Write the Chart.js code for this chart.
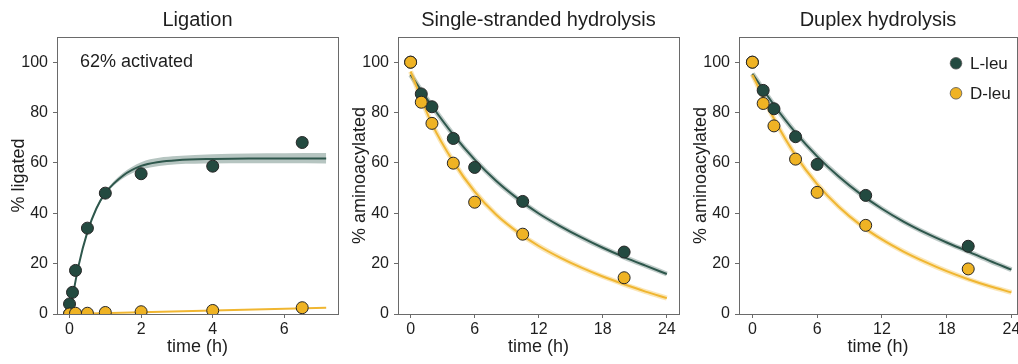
<!DOCTYPE html>
<html><head><meta charset="utf-8">
<script src="https://cdn.jsdelivr.net/npm/chart.js@4.4.1/dist/chart.umd.min.js"></script>
<style>
html,body{margin:0;padding:0;background:#fff;}
body{width:1018px;height:364px;position:relative;overflow:hidden;}
.p{position:absolute;top:0;width:345px;height:364px;}
</style></head><body>
<div class="p" style="left:0px"><canvas id="c1" width="345" height="364"></canvas></div>
<div class="p" style="left:341px"><canvas id="c2" width="345" height="364"></canvas></div>
<div class="p" style="left:682px"><canvas id="c3" width="345" height="364"></canvas></div>
<script>
// ---------- data ----------
const seriesNames = ['L-leu', 'D-leu'];
const panelTitles = ['Ligation', 'Single-stranded hydrolysis', 'Duplex hydrolysis'];
const yTitles = ['% ligated', '% aminoacylated', '% aminoacylated'];
const xTitle = 'time (h)';
const annotationText = '62% activated';

const yTicks = [0, 20, 40, 60, 80, 100];
const ligXTicks = [0, 2, 4, 6];
const hydXTicks = [0, 6, 12, 18, 24];

// Ligation panel, measured points
const ligTimeL = [0, 0, 0.083, 0.167, 0.5, 1, 2, 4, 6.5];
const ligL = [0, 4.0, 8.6, 17.3, 34.1, 48.0, 55.7, 58.7, 68.1];
const ligTimeD = [0, 0.167, 0.5, 1, 2, 4, 6.5];
const ligD = [0, 0.3, 0.3, 0.6, 0.9, 1.4, 2.5];
// Ligation panel, fitted curves
const ligFitTime = [0, 0.25, 0.5, 0.75, 1, 1.5, 2, 2.5, 3, 4, 5, 6, 7.17];
const ligFitL = [0, 19.0, 32.6, 41.9, 48.0, 55.0, 58.8, 60.4, 61.1, 61.6, 61.8, 61.8, 61.8];
const ligFitLLow = [0, 18.7, 32.1, 41.3, 47.3, 53.9, 57.3, 58.8, 59.5, 59.8, 59.9, 59.9, 59.8];
const ligFitLHigh = [0, 19.3, 33.1, 42.5, 48.7, 56.1, 60.3, 62.0, 62.7, 63.4, 63.7, 63.8, 63.9];
const ligFitDTime = [0, 7.17];
const ligFitD = [0, 2.5];

// Hydrolysis panels, measured points
const hydTime = [0, 1, 2, 4, 6, 10.5, 20];
const ssL = [100, 87.4, 82.3, 69.7, 58.2, 44.7, 24.6];
const ssD = [100, 84.1, 75.7, 59.9, 44.4, 31.7, 14.4];
const dxL = [100, 88.8, 81.5, 70.4, 59.4, 47.1, 26.9];
const dxD = [100, 83.6, 74.7, 61.5, 48.3, 35.2, 17.9];
// Hydrolysis panels, fitted curves
const hydFitTime = [0, 2, 4, 6, 8, 10, 12, 14, 16, 18, 20, 22, 24];
const ssFitL = [95, 82.6, 71.2, 61.3, 52.9, 45.9, 39.9, 34.9, 30.4, 26.3, 22.6, 19.2, 15.9];
const ssFitD = [96.3, 75.5, 60.5, 48.6, 39.5, 32.6, 27.0, 22.4, 18.4, 14.9, 11.8, 8.9, 6.3];
const dxFitL = [95.4, 83.0, 72.0, 62.6, 54.6, 47.7, 41.8, 36.7, 32.3, 28.4, 24.8, 21.1, 17.6];
const dxFitD = [95, 77.5, 63.0, 51.6, 42.6, 35.4, 29.6, 24.8, 20.7, 17.0, 13.8, 11.0, 8.6];

// ---------- styling ----------
const FONT = '"Liberation Sans", Arial, Helvetica, sans-serif';
const DARK = '#234a40';
const DARK_LINE = '#2e574c';
const GOLD = '#efb324';
const GOLD_LINE = '#f0b631';
const TEXT = '#1e1e1e';
const AXIS = '#6a6a6a';

const xy = (xs, ys) => xs.map((x, i) => ({x: x, y: ys[i]}));

function points(label, xs, ys, color, order) {
  return {label, data: xy(xs, ys), showLine: false, pointRadius: 6, pointBackgroundColor: color,
    pointBorderColor: '#262626', pointBorderWidth: 1, order, clip: 0};
}
function curve(label, xs, ys, color, width, order, extra) {
  return Object.assign({label, data: xy(xs, ys), showLine: true, pointRadius: 0, borderColor: color,
    borderWidth: width, cubicInterpolationMode: 'monotone', fill: false, order, clip: 0}, extra || {});
}

const decor = {
  id: 'decor',
  beforeDatasetsDraw(chart, args, o) {
    const a = chart.chartArea, c = chart.ctx;
    c.save();
    c.strokeStyle = AXIS; c.lineWidth = 1;
    const l = Math.round(a.left) + 0.5, t = Math.round(a.top) + 0.5;
    c.strokeRect(l, t, Math.round(a.right) - Math.round(a.left), Math.round(a.bottom) - Math.round(a.top));
    c.restore();
  },
  afterDraw(chart, args, o) {
    const a = chart.chartArea, c = chart.ctx;
    c.save();
    c.fillStyle = TEXT;
    c.textBaseline = 'alphabetic';
    c.textAlign = 'center';
    c.font = '20px ' + FONT;
    c.fillText(o.title, (a.left + a.right) / 2, 26);
    if (o.note) {
      c.textAlign = 'left';
      c.font = '18px ' + FONT;
      c.fillText(o.note, a.left + 23, 66.5);
    }
    if (o.legend) {
      const cols = [DARK, GOLD];
      c.font = '17px ' + FONT;
      c.textAlign = 'left';
      c.textBaseline = 'middle';
      seriesNames.forEach((n, i) => {
        const y = 63.3 + i * 30;
        c.beginPath();
        c.arc(a.left + 217, y, 5.8, 0, Math.PI * 2);
        c.fillStyle = cols[i]; c.fill();
        c.lineWidth = 0.8; c.strokeStyle = '#555'; c.stroke();
        c.fillStyle = TEXT;
        c.fillText(n, a.left + 231, y + 1);
      });
    }
    c.restore();
  }
};

function makeChart(id, datasets, xmin, xmax, xTicks, yTitle, decorOpts, padRight) {
  return new Chart(document.getElementById(id), {
    type: 'scatter',
    data: {datasets},
    plugins: [decor],
    options: {
      responsive: false, animation: false, events: [],
      layout: {padding: {left: 0, right: padRight, top: 37, bottom: 0}},
      plugins: {legend: {display: false}, tooltip: {enabled: false}, title: {display: false}, decor: decorOpts},
      scales: {
        x: {
          type: 'linear', min: xmin, max: xmax,
          afterBuildTicks: s => { s.ticks = xTicks.map(v => ({value: v})); },
          afterFit: s => { s.height = 50; },
          grid: {display: true, drawOnChartArea: false, drawTicks: true, tickLength: 4, color: AXIS},
          border: {display: true, color: AXIS, width: 1},
          ticks: {font: {family: FONT, size: 16}, color: TEXT, padding: 2, maxRotation: 0, autoSkip: false},
          title: {display: true, text: xTitle, font: {family: FONT, size: 18}, color: TEXT, padding: {top: 0, bottom: 6}}
        },
        y: {
          type: 'linear', min: 0, max: 110,
          afterBuildTicks: s => { s.ticks = yTicks.map(v => ({value: v})); },
          afterFit: s => { s.width = 57; },
          grid: {display: true, drawOnChartArea: false, drawTicks: true, tickLength: 4, color: AXIS},
          border: {display: true, color: AXIS, width: 1},
          ticks: {font: {family: FONT, size: 16}, color: TEXT, padding: 5, autoSkip: false},
          title: {display: true, text: yTitle, font: {family: FONT, size: 18}, color: TEXT, padding: {top: 8, bottom: 0}}
        }
      }
    }
  });
}

// Panel 1: ligation
makeChart('c1', [
  points(seriesNames[1], ligTimeD, ligD, GOLD, 0),
  points(seriesNames[0], ligTimeL, ligL, DARK, 1),
  curve(seriesNames[1] + ' fit', ligFitDTime, ligFitD, GOLD_LINE, 2, 2),
  curve(seriesNames[0] + ' fit', ligFitTime, ligFitL, DARK_LINE, 2, 3),
  curve('band low', ligFitTime, ligFitLLow, 'rgba(0,0,0,0)', 0, 5),
  curve('band high', ligFitTime, ligFitLHigh, 'rgba(0,0,0,0)', 0, 4, {fill: '-1', backgroundColor: 'rgba(42,84,73,0.34)'})
], -0.35, 7.5, ligXTicks, yTitles[0], {title: panelTitles[0], note: annotationText}, 4);

// Panel 2: single-stranded hydrolysis
makeChart('c2', [
  points(seriesNames[1], hydTime, ssD, GOLD, 0),
  points(seriesNames[0], hydTime, ssL, DARK, 1),
  curve(seriesNames[1] + ' fit', hydFitTime, ssFitD, GOLD_LINE, 2, 2),
  curve(seriesNames[0] + ' fit', hydFitTime, ssFitL, DARK_LINE, 2, 3),
  curve(seriesNames[1] + ' band', hydFitTime, ssFitD, 'rgba(240,182,49,0.35)', 5, 4),
  curve(seriesNames[0] + ' band', hydFitTime, ssFitL, 'rgba(46,87,76,0.3)', 5, 5)
], -1.18, 25.14, hydXTicks, yTitles[1], {title: panelTitles[1]}, 4);

// Panel 3: duplex hydrolysis
makeChart('c3', [
  points(seriesNames[1], hydTime, dxD, GOLD, 0),
  points(seriesNames[0], hydTime, dxL, DARK, 1),
  curve(seriesNames[1] + ' fit', hydFitTime, dxFitD, GOLD_LINE, 2, 2),
  curve(seriesNames[0] + ' fit', hydFitTime, dxFitL, DARK_LINE, 2, 3),
  curve(seriesNames[1] + ' band', hydFitTime, dxFitD, 'rgba(240,182,49,0.35)', 5, 4),
  curve(seriesNames[0] + ' band', hydFitTime, dxFitL, 'rgba(46,87,76,0.3)', 5, 5)
], -1.24, 24.52, hydXTicks, yTitles[2], {title: panelTitles[2], legend: true}, 10);
</script>
</body></html>
